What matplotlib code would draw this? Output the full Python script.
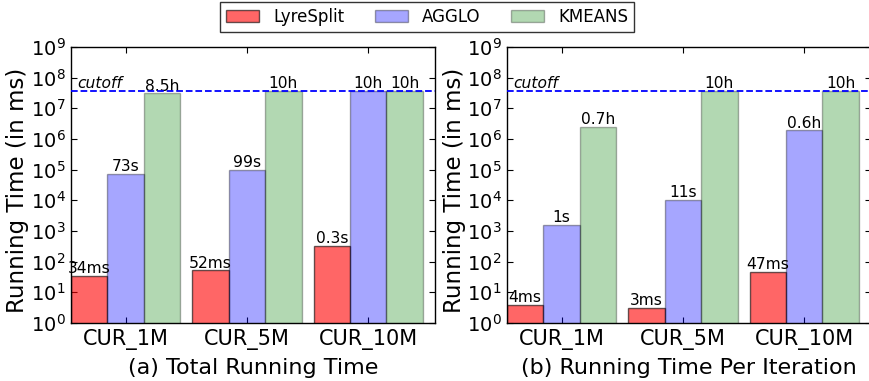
import matplotlib
matplotlib.use('Agg')
import matplotlib.pyplot as plt
import numpy as np

plt.rcParams['font.family'] = ['DejaVu Sans']

datasets = ['CUR_1M', 'CUR_5M', 'CUR_10M']
methods = ['LyreSplit', 'AGGLO', 'KMEANS']
cutoff = 3.6e7  # 10h in ms

# (a) total running time, ms
total_lyre = [34, 52, 330]
total_agglo = [73000, 99000, 3.6e7]
total_kmeans = [3.06e7, 3.6e7, 3.6e7]
total_labels = [['34ms', '52ms', '0.3s'],
                ['73s', '99s', '10h'],
                ['8.5h', '10h', '10h']]

# (b) running time per iteration, ms
iter_lyre = [4, 3.2, 47]
iter_agglo = [1600, 10500, 1.9e6]
iter_kmeans = [2.5e6, 3.6e7, 3.6e7]
iter_labels = [['4ms', '3ms', '47ms'],
               ['1s', '11s', '0.6h'],
               ['0.7h', '10h', '10h']]

colors = [('red', 0.6), ('blue', 0.35), ('green', 0.3)]
W, H = 870, 381
fig = plt.figure(figsize=(W / 100, H / 100), dpi=100)
fig.patch.set_facecolor('white')

bw = 0.3
x = np.arange(len(datasets))


def draw_panel(ax, series, labels, xlabel, ylab_x):
    for k, vals in enumerate(series):
        c, a = colors[k]
        bars = ax.bar(x + k * bw, vals, bw, align='edge', color=c, alpha=a,
                      edgecolor='black', lw=1, label=methods[k], zorder=2)
        for b, t in zip(bars, labels[k]):
            ax.annotate(t, (b.get_x() + b.get_width() / 2, b.get_height()),
                        xytext=(0, 2), textcoords='offset points',
                        ha='center', va='baseline', fontsize=11.2, zorder=3)
    ax.axhline(cutoff, color='blue', ls='--', lw=1.3, zorder=4)
    ax.annotate('cutoff', (0.05, cutoff), xytext=(0, 2.5), textcoords='offset points',
                style='italic', fontsize=11.2, ha='left', va='baseline')
    ax.set_yscale('log')
    ax.set_ylim(1, 1e9)
    ax.set_xlim(0, 3)
    ax.set_yticks([10.0 ** i for i in range(10)])
    ax.set_xticks(x + 0.45)
    ax.set_xticklabels(datasets, fontsize=15)
    ax.tick_params(axis='y', labelsize=14)
    ax.tick_params(which='both', direction='in', top=True, right=True)
    ax.tick_params(which='major', length=4, pad=4)
    ax.tick_params(which='minor', length=2)
    ax.set_ylabel('Running Time (in ms)', fontsize=16.5)
    ax.yaxis.set_label_coords(ylab_x, 0.48)
    ax.set_xlabel(xlabel, fontsize=16, labelpad=6)
    for s in ax.spines.values():
        s.set_linewidth(1.0)


ax1 = fig.add_axes([71 / W, 1 - 323 / H, 364 / W, 276 / H])
draw_panel(ax1, [total_lyre, total_agglo, total_kmeans], total_labels,
           '(a) Total Running Time', -0.116)
ax2 = fig.add_axes([507 / W, 1 - 323 / H, 364 / W, 276 / H])
draw_panel(ax2, [iter_lyre, iter_agglo, iter_kmeans], iter_labels,
           '(b) Running Time Per Iteration', -0.112)

handles, lbls = ax1.get_legend_handles_labels()
leg = fig.legend(handles, lbls, loc='center', bbox_to_anchor=(427 / W, 1 - 17 / H),
                 ncol=3, fontsize=12, frameon=True, fancybox=False,
                 edgecolor='black', handlelength=2.0, handleheight=0.7,
                 handletextpad=0.85, columnspacing=1.8, borderpad=0.35)
leg.get_frame().set_linewidth(1.0)

fig.savefig('out.png', dpi=100, facecolor='white')
